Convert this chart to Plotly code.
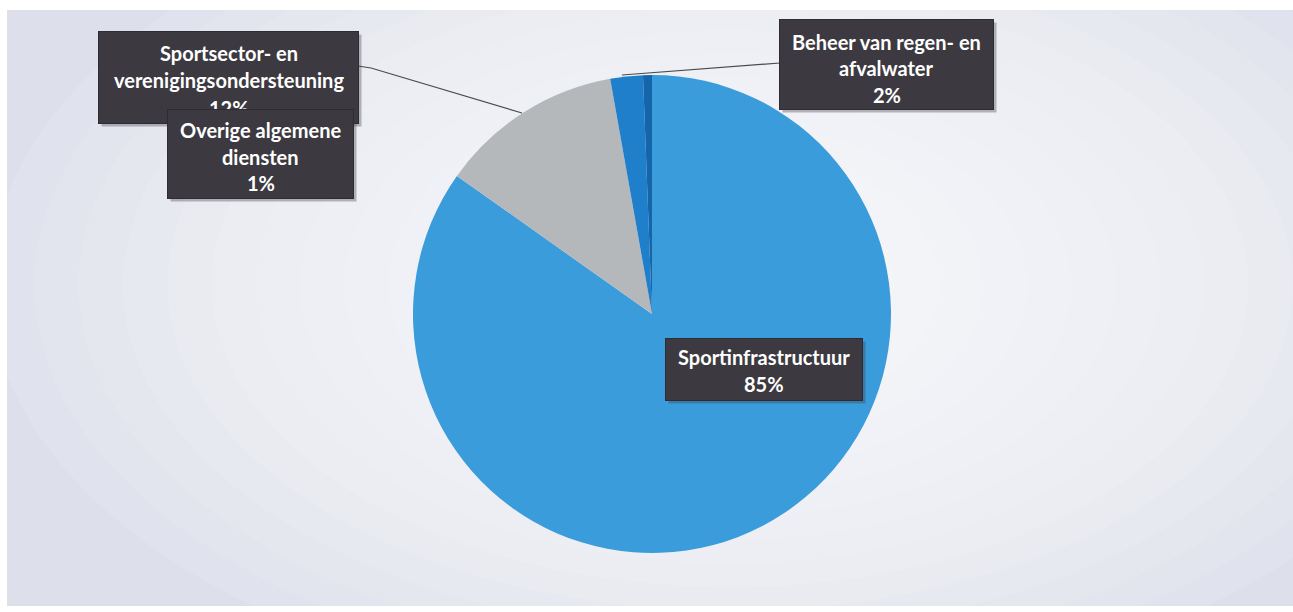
import plotly.graph_objects as go

# ---- data ----
categories = ["Sportinfrastructuur", "Sportsector- en verenigingsondersteuning",
              "Beheer van regen- en afvalwater", "Overige algemene diensten"]
values = [84.8, 12.4, 2.2, 0.6]
colors = ["#3a9cdb", "#b4b8ba", "#1f7fcb", "#1465aa"]
label_lines = {
    "Sportinfrastructuur": ["Sportinfrastructuur"],
    "Sportsector- en verenigingsondersteuning": ["Sportsector- en", "verenigingsondersteuning"],
    "Beheer van regen- en afvalwater": ["Beheer van regen- en", "afvalwater"],
    "Overige algemene diensten": ["Overige algemene", "diensten"],
}

W, H = 1293, 612
total = sum(values)
pct = {c: f"{round(v / total * 100)}%" for c, v in zip(categories, values)}

# pie geometry (pixels)
cx, cy, r = 652, 314, 239

fig = go.Figure()
fig.add_trace(go.Pie(
    labels=categories, values=values, sort=False, direction="clockwise", rotation=0,
    marker=dict(colors=colors, line=dict(width=0)),
    textinfo="none", hoverinfo="label+percent", showlegend=False,
    domain=dict(x=[(cx - r) / W, (cx + r) / W], y=[(H - cy - r) / H, (H - cy + r) / H]),
))

def px(x):
    return x / W

def py(y):
    return 1 - y / H

shapes = []
# background
shapes.append(dict(type="rect", xref="paper", yref="paper", x0=px(7), x1=px(W), y0=py(606), y1=py(10),
                   fillcolor="#dde0eb", line=dict(width=0), layer="below"))
n = 14
for i in range(n):
    f = 1 - i / n
    rx, ry = 120 + 620 * f, 90 + 330 * f
    ex, ey = 730, 285
    shapes.append(dict(type="circle", xref="paper", yref="paper",
                       x0=px(ex - rx), x1=px(ex + rx), y0=py(ey + ry), y1=py(ey - ry),
                       fillcolor="white", opacity=0.1, line=dict(width=0), layer="below"))
# leader lines
shapes.append(dict(type="path", xref="paper", yref="paper",
                   path=f"M {px(358)} {py(66)} L {px(371)} {py(68)} L {px(522)} {py(113)}",
                   line=dict(color="#4a4a4a", width=1.2)))
shapes.append(dict(type="path", xref="paper", yref="paper",
                   path=f"M {px(780)} {py(63)} L {px(622)} {py(75)}",
                   line=dict(color="#4a4a4a", width=1.2)))

annotations = []
FONT = dict(family="Lato", size=20, color="white", weight="bold")

def add_box(x0, y0, x1, y1, lines, line_ys):
    # shadow
    annotations.append(dict(xref="paper", yref="paper", x=px((x0 + x1) / 2 + 3), y=py((y0 + y1) / 2 + 3),
                            text=" ", showarrow=False, width=x1 - x0, height=y1 - y0,
                            bgcolor="rgba(60,60,70,0.35)", borderpad=0, xanchor="center", yanchor="middle"))
    annotations.append(dict(xref="paper", yref="paper", x=px((x0 + x1) / 2), y=py((y0 + y1) / 2),
                            text=" ", showarrow=False, width=x1 - x0, height=y1 - y0,
                            bgcolor="#3c3a40", bordercolor="#2e2c32", borderwidth=1, borderpad=0,
                            xanchor="center", yanchor="middle"))
    for t, ly in zip(lines, line_ys):
        annotations.append(dict(xref="paper", yref="paper", x=px((x0 + x1) / 2), y=py(ly),
                                text=t, showarrow=False, font=FONT, xanchor="center", yanchor="middle"))

c = categories
add_box(99, 32, 358, 123, label_lines[c[1]] + [pct[c[1]]], [53, 80, 108])
add_box(168, 110, 353, 198, label_lines[c[3]] + [pct[c[3]]], [130, 157, 183])
add_box(780, 20, 993, 109, label_lines[c[2]] + [pct[c[2]]], [42, 68, 95])
add_box(666, 339, 862, 400, label_lines[c[0]] + [pct[c[0]]], [357, 384])

fig.update_layout(
    width=W, height=H, margin=dict(l=0, r=0, t=0, b=0),
    paper_bgcolor="white", plot_bgcolor="white",
    shapes=shapes, annotations=annotations,
)

fig.write_html("out.html", config={"displayModeBar": False},
               post_script="document.body.style.margin='0';document.body.style.overflow='hidden';")
